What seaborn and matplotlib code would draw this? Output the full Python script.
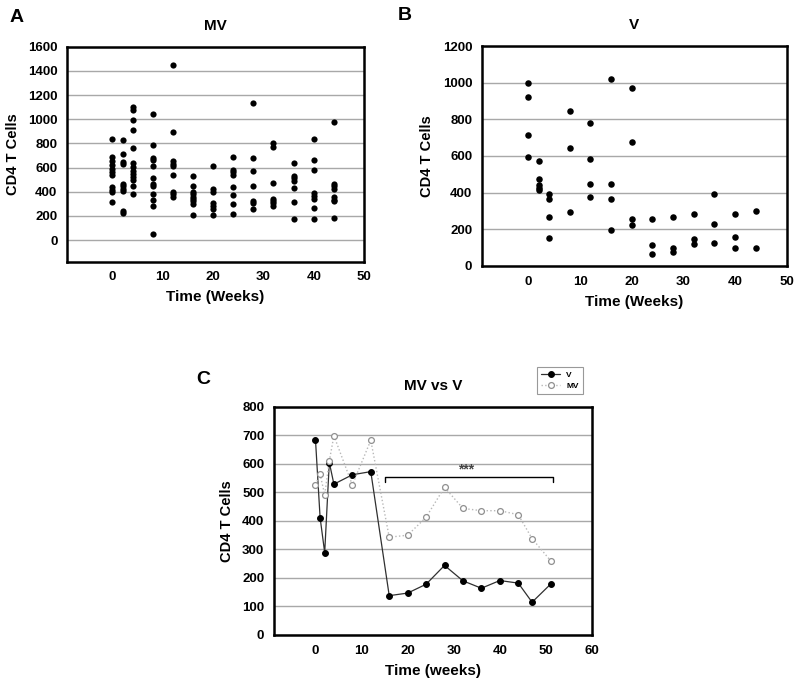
import pandas as pd
import numpy as np

import matplotlib
matplotlib.use("Agg")
import matplotlib.pyplot as plt
import seaborn as sns

sns.set_style("white")
plt.rcParams['font.family'] = ['Liberation Sans', 'DejaVu Sans']
plt.rcParams['font.weight'] = 'bold'
plt.rcParams['text.color'] = 'black'
plt.rcParams['axes.labelcolor'] = 'black'
plt.rcParams['xtick.color'] = 'black'
plt.rcParams['ytick.color'] = 'black'

# ---- data ----
# panel A (MV): CD4 counts per week
weeks_mv = [0, 2, 4, 8, 12, 16, 20, 24, 28, 32, 36, 40, 44]
cd4_mv = [
    [835, 685, 650, 620, 590, 560, 540, 440, 415, 400, 315],
    [825, 710, 645, 625, 465, 445, 425, 405, 240, 220],
    [1100, 1080, 990, 910, 760, 635, 605, 575, 545, 520, 500, 450, 380],
    [1045, 790, 680, 665, 610, 515, 465, 450, 380, 330, 285, 50],
    [1445, 895, 650, 630, 615, 535, 400, 380, 355],
    [530, 450, 400, 380, 360, 340, 320, 295, 210],
    [610, 420, 400, 310, 280, 255, 210],
    [685, 580, 560, 540, 435, 375, 300, 215],
    [1130, 675, 575, 450, 325, 310, 260],
    [805, 770, 470, 340, 320, 305, 285],
    [640, 530, 510, 490, 430, 315, 175],
    [840, 665, 580, 385, 365, 340, 265, 175],
    [975, 465, 445, 425, 355, 335, 320, 178],
]

# panel B (V)
weeks_v = [0, 2, 4, 8, 12, 16, 20, 24, 28, 32, 36, 40, 44]
cd4_v = [
    [1000, 920, 714, 593],
    [573, 473, 442, 427, 415],
    [391, 364, 265, 151],
    [844, 642, 295],
    [778, 585, 449, 376],
    [1020, 449, 367, 195],
    [973, 676, 255, 225],
    [256, 116, 65],
    [267, 98, 75],
    [285, 149, 120],
    [395, 227, 127],
    [285, 156, 96],
    [300, 96],
]

# panel C (means)
weeks_c = [0, 1, 2, 3, 4, 8, 12, 16, 20, 24, 28, 32, 36, 40, 44, 47, 51]
mean_v = [685, 412, 289, 605, 529, 562, 573, 138, 147, 178, 244, 190, 164, 191, 182, 115, 178]
mean_mv = [527, 564, 492, 610, 699, 526, 683, 343, 350, 413, 518, 444, 436, 436, 422, 338, 261]
sig_start, sig_end, sig_level = 15, 51.5, 553


def long_df(weeks, values):
    rows = []
    for w, vals in zip(weeks, values):
        for v in vals:
            rows.append({"week": w, "cd4": v})
    return pd.DataFrame(rows)


df_mv = long_df(weeks_mv, cd4_mv)
df_v = long_df(weeks_v, cd4_v)
df_c = pd.DataFrame({"week": weeks_c, "V": mean_v, "MV": mean_mv})

fig = plt.figure(figsize=(8, 6.87), dpi=100)
axA = fig.add_axes([0.084, 0.619, 0.371, 0.313])
axB = fig.add_axes([0.6025, 0.613, 0.381, 0.320])
axC = fig.add_axes([0.3425, 0.0757, 0.3975, 0.332])


def style_ax(ax, ylim, yticks, xlim, xticks, title, xlabel):
    ax.set_xlim(*xlim)
    ax.set_ylim(*ylim)
    ax.set_xticks(xticks)
    ax.set_yticks(yticks)
    ax.yaxis.grid(True, color='#a8a8a8', linewidth=1)
    ax.xaxis.grid(False)
    ax.set_axisbelow(True)
    for s in ax.spines.values():
        s.set_color('black')
        s.set_linewidth(1.8)
    ax.tick_params(length=0, labelsize=9.5, pad=7)
    for lab in ax.get_xticklabels() + ax.get_yticklabels():
        lab.set_fontweight('bold')
    ax.set_title(title, fontsize=11, fontweight='bold', pad=12)
    ax.set_xlabel(xlabel, fontsize=11, fontweight='bold', labelpad=5)
    ax.set_ylabel("CD4 T Cells", fontsize=10.5, fontweight='bold', labelpad=6)


sns.scatterplot(data=df_mv, x="week", y="cd4", ax=axA, color='black', s=20, edgecolor='black', linewidth=0)
style_ax(axA, (-180, 1600), range(0, 1601, 200), (-9, 50), range(0, 51, 10), "MV", "Time (Weeks)")

sns.scatterplot(data=df_v, x="week", y="cd4", ax=axB, color='black', s=22, edgecolor='black', linewidth=0)
style_ax(axB, (0, 1200), range(0, 1201, 200), (-9, 50), range(0, 51, 10), "V", "Time (Weeks)")

sns.lineplot(data=df_c, x="week", y="V", ax=axC, color='#303030', linewidth=0.9,
             marker='o', markersize=4.2, markerfacecolor='black', markeredgecolor='black',
             label='V', sort=False)
sns.lineplot(data=df_c, x="week", y="MV", ax=axC, color='#b8b8b8', linewidth=1.0, linestyle=':',
             marker='o', markersize=4.2, markerfacecolor='white', markeredgecolor='#909090',
             markeredgewidth=0.9, label='MV', sort=False)
style_ax(axC, (0, 800), range(0, 801, 100), (-9, 60), range(0, 61, 10), "MV vs V", "Time (weeks)")

# significance bracket
axC.plot([sig_start, sig_start, sig_end, sig_end],
         [sig_level - 15, sig_level, sig_level, sig_level - 15], color='black', linewidth=1)
axC.text((sig_start + sig_end) / 2 - 0.5, sig_level + 4, "***", ha='center', va='bottom',
         fontsize=10, color='#444444')

leg = axC.legend(loc='upper right', bbox_to_anchor=(0.985, 1.195), fontsize=6,
                 frameon=True, fancybox=False, handlelength=2.2, borderpad=0.5,
                 labelspacing=0.4)
leg.get_frame().set_edgecolor('#808080')
leg.get_frame().set_linewidth(0.8)
for t in leg.get_texts():
    t.set_fontweight('bold')

fig.text(0.012, 0.975, "A", fontsize=14, fontweight='bold', va='center')
fig.text(0.497, 0.978, "B", fontsize=14, fontweight='bold', va='center')
fig.text(0.245, 0.447, "C", fontsize=14, fontweight='bold', va='center')

fig.savefig("out.png", dpi=100)
